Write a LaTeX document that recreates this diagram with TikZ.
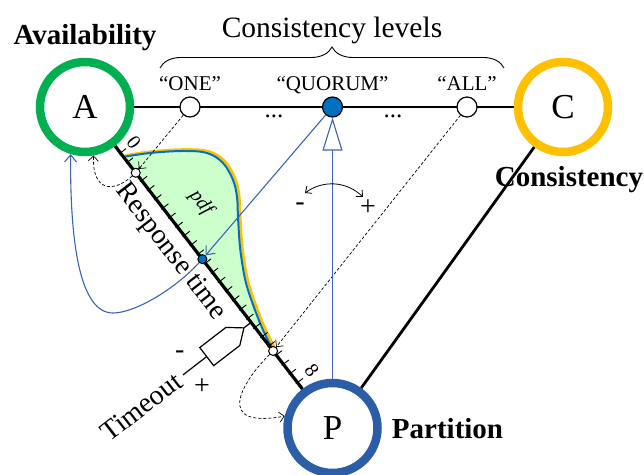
\documentclass[tikz,border=0pt]{standalone}
\usepackage{fontspec}
\setmainfont{Liberation Serif}
\usetikzlibrary{arrows.meta,calc,decorations.pathreplacing}
\definecolor{agreen}{RGB}{0,176,80}
\definecolor{corange}{RGB}{255,192,0}
\definecolor{pblue}{RGB}{43,94,167}
\definecolor{dotblue}{RGB}{0,112,192}
\definecolor{linkblue}{RGB}{58,100,180}
\definecolor{pdfgreen}{RGB}{204,255,204}
\pgfdeclarelayer{pdfarea}
\pgfdeclarelayer{edges}
\pgfsetlayers{pdfarea,edges,main}
\begin{document}
\begin{tikzpicture}[x=1pt,y=1pt,
  vertex/.style={circle, draw, line width=8.5pt, fill=white, minimum size=90pt,
    inner sep=0pt, font=\fontsize{35}{40}\selectfont},
  level/.style={circle, draw, line width=1.2pt, fill=white, minimum size=20pt, inner sep=0pt},
  probe/.style={circle, draw, line width=1pt, fill=white, minimum size=9pt, inner sep=0pt},
  edge/.style={line width=2.8pt},
  tickmark/.style={line width=0.9pt},
  barb/.style={-{Straight Barb[length=5pt,width=10pt]}},
  hint/.style={dashed, dash pattern=on 3pt off 2pt, line width=0.7pt, barb},
  link/.style={linkblue, line width=1.1pt},
  title/.style={font=\bfseries\fontsize{29}{33}\selectfont, anchor=base},
  qlabel/.style={font=\fontsize{21}{24}\selectfont, anchor=base},
  sign/.style={font=\fontsize{28}{32}\selectfont},
  axislabel/.style={font=\fontsize{28}{32}\selectfont}]
\useasboundingbox (0,0) rectangle (644,474);

% corners of the triangle
\node[vertex, draw=agreen]  (A) at (85,367)    {A};
\node[vertex, draw=corange] (C) at (563,367)   {C};
\node[vertex, draw=pblue]   (P) at (332.5,46)  {P};

% consistency levels on the A--C edge
\node[level] (one) at (190,367) {};
\node[level, fill=dotblue] (quorum) at (332.5,367) {};
\node[level] (all) at (467,367) {};
\node[qlabel] (lone) at (190,383) {“ONE”};
\node[qlabel] (lquorum) at (332.5,383) {“QUORUM”};
\node[qlabel] (lall) at (467,383) {“ALL”};
\node[qlabel, font=\fontsize{25}{28}\selectfont] (dots1) at (274,356) {...};
\node[qlabel, font=\fontsize{25}{28}\selectfont] (dots2) at (393,356) {...};

% brace and heading
\coordinate (bl) at (160,406);
\coordinate (br) at (504,406);
\draw[decorate, decoration={brace, amplitude=21pt}, line width=0.9pt] (bl) -- (br);
\node[font=\fontsize{29.5}{34}\selectfont, anchor=base] (levels) at (332,436) {Consistency levels};

% corner titles
\node[title] (tA) at (85,429) {Availability};
\node[title] (tC) at (569,287) {Consistency};
\node[title] (tP) at (447.5,36) {Partition};

% points on the response-time axis
\node[probe] (t1) at ($(A)!0.205!(P)$) {};
\node[probe, fill=dotblue] (bd) at ($(A)!0.474!(P)$) {};
\node[probe] (t3) at ($(A)!0.760!(P)$) {};

% probability density of the response time
\begin{pgfonlayer}{pdfarea}
\fill[pdfgreen] plot[smooth, tension=0.6] coordinates {(123,317) (150,321) (183,323) (207,321)
  (223,311) (233,294) (237,277) (238,257) (240,227) (244,200) (248,184) (255,164) (263,144) (274,122)} -- cycle;
\draw[corange, line width=2.8pt, shift={(2,1.4)}] plot[smooth, tension=0.6] coordinates {(123,317) (150,321) (183,323) (207,321)
  (223,311) (233,294) (237,277) (238,257) (240,227) (244,200) (248,184) (255,164) (263,144) (274,122)};
\draw[dotblue, line width=2pt] plot[smooth, tension=0.6] coordinates {(123,317) (150,321) (183,323) (207,321)
  (223,311) (233,294) (237,277) (238,257) (240,227) (244,200) (248,184) (255,164) (263,144) (274,122)};
\end{pgfonlayer}
\node[font=\itshape\fontsize{20}{22}\selectfont, rotate=-52.37] (pdf) at (201,271) {pdf};

% triangle edges and axis ticks
\begin{pgfonlayer}{edges}
\draw[edge] (A) -- (C);
\draw[edge] (P) -- (C);
\draw[edge, line width=3.2pt] (A) -- (P);
\begin{scope}[shift={(A)}, rotate=-52.37]
  \foreach \i in {0,...,25} \draw[tickmark] ({58+11.6*\i},-2) -- ++(0,9);
\end{scope}
\end{pgfonlayer}

\begin{scope}[shift={(A)}, rotate=-52.37]
  \node[font=\fontsize{20}{22}\selectfont, rotate=-52.37] (zero) at (58,17) {0};
  \node[font=\fontsize{20}{22}\selectfont, rotate=-52.37] (inf) at (347,19) {8};
  \node[axislabel, rotate=-52.37] (rt) at (167,-21) {Response time};
  % timeout knob
  \draw[line width=1.2pt] (272,0) -- (272,-9);
  \draw[line width=1.2pt, fill=white] (272,-9) -- (283.4,-23) -- (283.4,-56) -- (260.6,-56) -- (260.6,-23) -- cycle;
  \draw[line width=1.2pt] (272,-56) -- (272,-86);
  \node[axislabel, rotate=37.63, anchor=east] (to) at (272,-88) {Timeout};
  \node[sign] (tminus) at (254,-76) {-};
  \node[sign] (tplus) at (293,-78) {+};
\end{scope}

% mappings between levels and the axis
\draw[hint] (one) -- (t1);
\draw[hint] (all) -- (t3);
\draw[hint] (t1) .. controls (112,280) and (92,284) .. (A.-80);
\draw[hint] (t3) .. controls (240,90) and (215,45) .. (P.166);
\draw[link, -{Straight Barb[length=7pt,width=12pt]}] (quorum) -- (bd);
\coordinate (loop) at (113,161);
\draw[link, -{Straight Barb[length=7pt,width=12pt]}] (bd) .. controls (175,185) and (135,161) .. (loop)
  .. controls (80,161) and (70,230) .. (A.-107);
\draw[link, -{Triangle[open, length=33pt, width=20pt]}] (P) -- (quorum);

% level selector
\coordinate (sl) at (305,281);
\coordinate (sr) at (363,277);
\draw[line width=0.8pt, {Straight Barb[length=5pt,width=9pt]}-{Straight Barb[length=5pt,width=9pt]}] (sl) to[bend left=40] (sr);
\node[sign] (sminus) at (300,267) {-};
\node[sign] (splus) at (368,266) {+};
\end{tikzpicture}
\end{document}
